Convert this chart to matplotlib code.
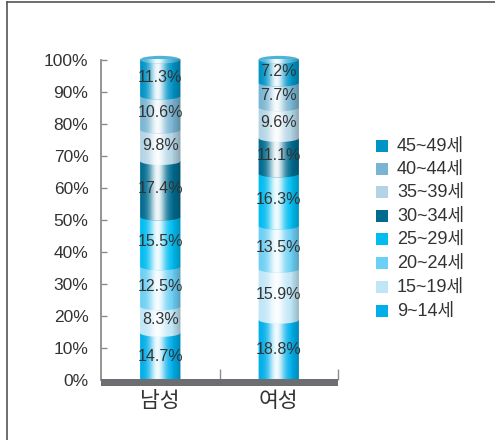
import numpy as np
import matplotlib
matplotlib.use('Agg')
import matplotlib.pyplot as plt
from matplotlib.patches import Rectangle, Ellipse, Polygon
from matplotlib.lines import Line2D
import matplotlib.colors as mcolors

groups = ['남성', '여성']
age_bands = ['9~14세', '15~19세', '20~24세', '25~29세', '30~34세', '35~39세', '40~44세', '45~49세']
male = [14.7, 8.3, 12.5, 15.5, 17.4, 9.8, 10.6, 11.3]
female = [18.8, 15.9, 13.5, 16.3, 11.1, 9.6, 7.7, 7.2]
colors = ['#00aeea', '#bfe6f7', '#6ccff4', '#00bcf0', '#006b8f', '#b3d4e5', '#79b5d2', '#0093c6']
y_ticks = list(range(0, 101, 10))

NUM_FONT = ['Liberation Sans Narrow', 'Liberation Sans', 'DejaVu Sans']
KR_FONT = ['Noto Sans CJK KR', 'DejaVu Sans']
MIX_FONT = ['Liberation Sans Narrow', 'Liberation Sans', 'Noto Sans CJK KR', 'DejaVu Sans']

W, H = 495, 440
fig = plt.figure(figsize=(W / 100, H / 100), dpi=100)
ax = fig.add_axes([101 / W, 60 / H, 237 / W, 320 / H])

xpos = np.arange(len(groups)) + 0.5
bw = 0.34
eh = 2.4

# cylinder shading overlay
u = np.linspace(0, 1, 200)
hl = 0.95 * np.exp(-((u - 0.43) / 0.2) ** 2)
dk = 0.25 * np.clip((u - 0.72) / 0.28, 0, 1) ** 1.5
overlay = np.zeros((1, 200, 4))
white = hl >= dk
overlay[0, :, :3] = np.where(white, 1.0, 0.0)[:, None]
overlay[0, :, 3] = np.where(white, hl, dk)

def seg_polygon(xc, b, t):
    th = np.linspace(np.pi, 2 * np.pi, 40)
    arc = np.column_stack([xc + bw / 2 * np.cos(th), b + eh / 2 * np.sin(th)])
    pts = np.vstack([[xc - bw / 2, t], arc, [xc + bw / 2, t]])
    return pts

for gi, vals in enumerate([male, female]):
    xc = xpos[gi]
    bottoms = np.concatenate([[0], np.cumsum(vals)[:-1]])
    z = 3
    for v, b, c in zip(vals, bottoms, colors):
        t = b + v
        poly = Polygon(seg_polygon(xc, b, t), closed=True, facecolor=c,
                       edgecolor='none', zorder=z, clip_on=False)
        ax.add_patch(poly)
        im = ax.imshow(overlay, extent=(xc - bw / 2, xc + bw / 2, b - eh, t),
                       aspect='auto', zorder=z + 0.5, interpolation='bilinear')
        im.set_clip_path(poly)
        im.set_clip_box(None)
        ax.text(xc, b + v / 2, f'{v}%', ha='center', va='center', fontsize=11.5,
                color='#333333', family=NUM_FONT, zorder=60)
        z += 1
    top = bottoms[-1] + vals[-1]
    capc = mcolors.to_rgb(colors[-1])
    capc = tuple(0.7 * np.array(capc) + 0.3)
    cap = Ellipse((xc, top), bw, eh, facecolor=capc, edgecolor='none',
                  zorder=z + 1, clip_on=False)
    ax.add_patch(cap)
    im = ax.imshow(overlay, extent=(xc - bw / 2, xc + bw / 2, top - eh, top + eh),
                   aspect='auto', zorder=z + 1.5, interpolation='bilinear')
    im.set_clip_path(cap)
    im.set_clip_box(None)

ax.set_xlim(0, 2)
ax.set_ylim(0, 100)

# baseline bar
ax.add_patch(Rectangle((0, -6 / 320), 1, 7 / 320, transform=ax.transAxes,
                       facecolor='#6d6e71', edgecolor='none', clip_on=False, zorder=50))

for s in ['top', 'right', 'bottom']:
    ax.spines[s].set_visible(False)
ax.spines['left'].set_color('#8c8c8c')
ax.spines['left'].set_linewidth(1.3)

ax.set_yticks(y_ticks)
ax.set_yticklabels([f'{v}%' for v in y_ticks], family=NUM_FONT, fontsize=12.5, color='#333333')
ax.tick_params(axis='y', direction='in', length=4, width=1, color='#8c8c8c', pad=9)

ax.set_xticks(xpos)
ax.set_xticklabels(groups, family=KR_FONT, fontsize=15.5, color='#333333')
ax.tick_params(axis='x', which='major', length=0, pad=7)
ax.set_xticks([1, 2], minor=True)
ax.tick_params(axis='x', which='minor', direction='in', length=8, width=1, color='#8c8c8c')

# frame lines
fig.add_artist(Line2D([7 / W, 7 / W], [0, 1 - 2 / H], transform=fig.transFigure,
                      color='#555555', lw=1.2))
fig.add_artist(Line2D([7 / W, 1], [1 - 2 / H, 1 - 2 / H], transform=fig.transFigure,
                      color='#555555', lw=1.2))

# legend
leg_y = [146, 169, 192, 216, 239, 263, 287, 311]
for yc, lab, c in zip(leg_y, age_bands[::-1], colors[::-1]):
    fig.add_artist(Rectangle((376 / W, 1 - (yc + 6) / H), 12 / W, 12 / H,
                             transform=fig.transFigure, facecolor=c, edgecolor='none'))
    fig.text(397 / W, 1 - yc / H, lab, va='center', ha='left', fontsize=13,
             color='#333333', family=MIX_FONT)

fig.savefig('out.png', dpi=100)
